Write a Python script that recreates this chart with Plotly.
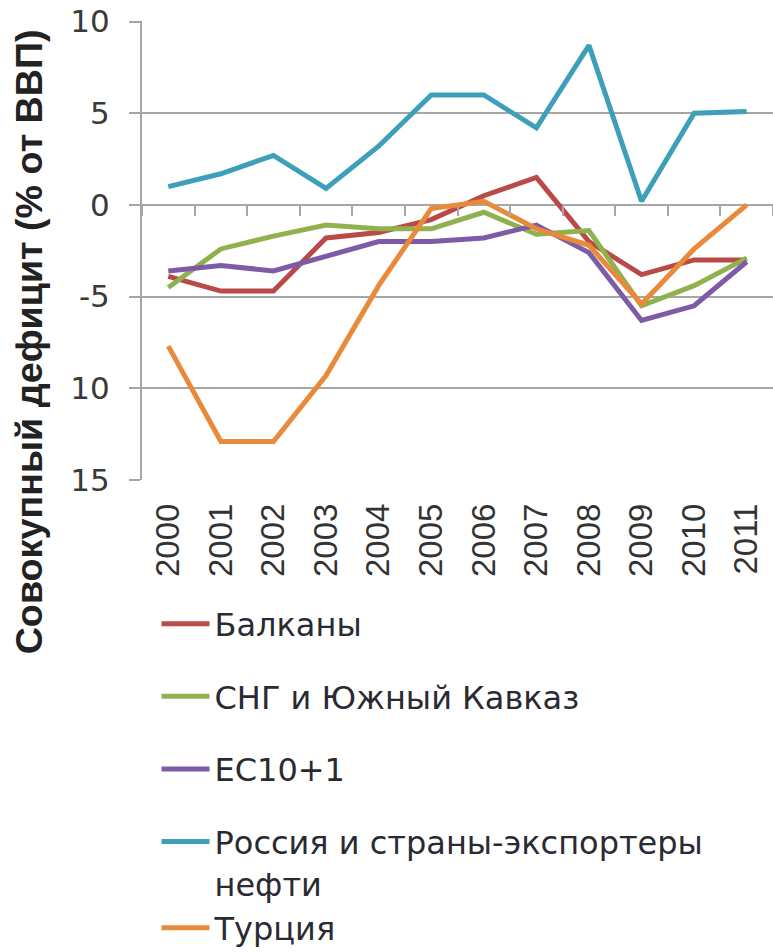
import plotly.graph_objects as go

# годы и значения по регионам (% от ВВП)
years = ['2000', '2001', '2002', '2003', '2004', '2005',
         '2006', '2007', '2008', '2009', '2010', '2011']

balkans = [-3.9, -4.7, -4.7, -1.8, -1.5, -0.8, 0.5, 1.5, -2.0, -3.8, -3.0, -3.0]
cis = [-4.5, -2.4, -1.7, -1.1, -1.3, -1.3, -0.4, -1.6, -1.4, -5.5, -4.4, -2.9]
eu = [-3.6, -3.3, -3.6, -2.8, -2.0, -2.0, -1.8, -1.1, -2.6, -6.3, -5.5, -3.1]
russia = [1.0, 1.7, 2.7, 0.9, 3.2, 6.0, 6.0, 4.2, 8.7, 0.2, 5.0, 5.1]
turkey = [-7.7, -12.9, -12.9, -9.3, -4.4, -0.2, 0.2, -1.3, -2.2, -5.4, -2.4, 0.0]

names = ['Балканы', 'СНГ и Южный Кавказ', 'ЕС10+1',
         'Россия и страны-экспортеры<br>нефти', 'Турция']
colors = ['#B94A48', '#8FB24F', '#7D5BA6', '#3D9FB9', '#E98A3A']
groups = ['g1', 'g2', 'g3', 'g4', 'g4']

y_ticks = [10, 5, 0, -5, -10, -15]
y_ticktext = ['10', '5', '0', '-5', '10', '15']

grid_color = '#A6A6A6'
font_family = 'Liberation Sans, Arial, sans-serif'
wide_family = 'DejaVu Sans, Verdana, sans-serif'

fig = go.Figure()
series = [balkans, cis, eu, russia, turkey]
for i, vals in enumerate(series):
    fig.add_trace(go.Scatter(
        x=years, y=vals, name=names[i], mode='lines',
        line=dict(color=colors[i], width=5),
        legendgroup=groups[i],
        # Турция на второй оси X, чтобы нарисовать засечки на линии нуля
        xaxis='x2' if i == 4 else 'x',
    ))

fig.update_layout(
    width=773, height=952,
    margin=dict(l=142, r=0, t=21, b=472, autoexpand=False),
    paper_bgcolor='white', plot_bgcolor='white',
    font=dict(family=font_family, color='#333333'),
    showlegend=True,
    legend=dict(
        x=0.023, y=-0.2536, xanchor='left', yanchor='top',
        font=dict(family=wide_family, size=32, color='#2A2A33'),
        traceorder='grouped', tracegroupgap=28,
        valign='top', itemwidth=48,
    ),
    xaxis=dict(
        type='category', range=[-0.5, 11.5], automargin=False,
        showgrid=False, showline=False, ticks='',
        tickangle=-90, tickfont=dict(size=33, color='#333333'),
        ticklabelstandoff=16,
    ),
    xaxis2=dict(
        type='category', overlaying='x', matches='x',
        anchor='free', position=0.6, automargin=False,
        showgrid=False, showline=False, showticklabels=False,
        ticks='outside', tickson='boundaries', ticklen=10,
        tickwidth=2, tickcolor=grid_color,
    ),
    yaxis=dict(
        range=[-15, 10.03], tickvals=y_ticks, ticktext=y_ticktext,
        automargin=False, ticklabeloverflow='allow',
        showgrid=True, gridcolor=grid_color, gridwidth=2,
        zeroline=False, showline=True, linecolor=grid_color, linewidth=2,
        ticks='outside', ticklen=11, tickwidth=2, tickcolor=grid_color,
        tickfont=dict(family=wide_family, size=31, color='#3A3A3A'),
        ticklabelstandoff=13,
    ),
)

fig.add_annotation(
    text='<b>Совокупный дефицит (% от ВВП)</b>',
    xref='paper', yref='paper', x=-0.179, y=0.3,
    xanchor='center', yanchor='middle', textangle=-90,
    showarrow=False, font=dict(size=37.7, color='#222222'),
)

# убираем стандартный отступ body, чтобы график начинался с (0, 0)
fig.write_html('out.html', config={'displayModeBar': False},
               post_script="document.body.style.margin = '0';")
